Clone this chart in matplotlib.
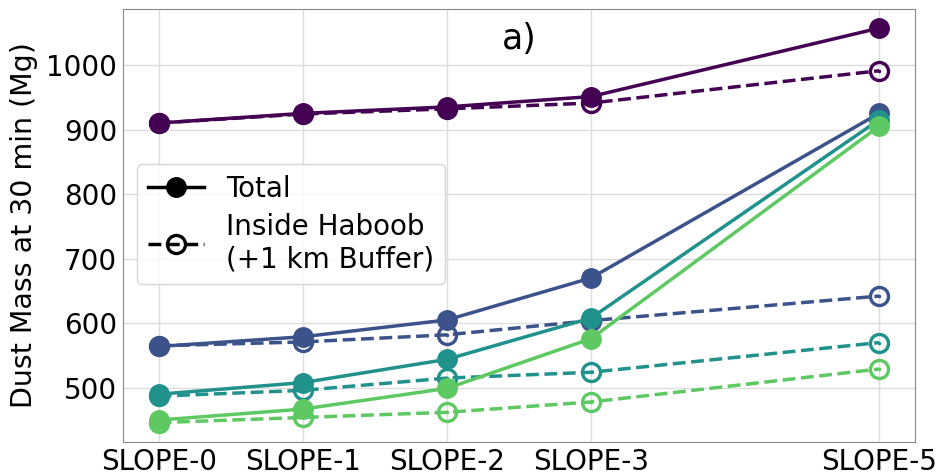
"""Dust mass at 30 min for the SLOPE experiments (panel a)."""

import matplotlib

matplotlib.use("Agg")
import matplotlib.pyplot as plt
from matplotlib.lines import Line2D
import numpy as np

# ---------------------------------------------------------------------------
# Data (Mg)
# ---------------------------------------------------------------------------
slope_pos = [0, 1, 2, 3, 5]
slope_labels = ["SLOPE-0", "SLOPE-1", "SLOPE-2", "SLOPE-3", "SLOPE-5"]

total_purple = [910, 925, 935, 951, 1057]
total_blue = [564, 579, 605, 670, 925]
total_teal = [490, 508, 544, 608, 915]
total_green = [450, 467, 499, 576, 905]

inside_purple = [910, 924, 932, 941, 991]
inside_blue = [565, 571, 582, 604, 642]
inside_teal = [487, 496, 515, 524, 570]
inside_green = [446, 454, 462, 478, 529]

totals = [total_purple, total_blue, total_teal, total_green]
insides = [inside_purple, inside_blue, inside_teal, inside_green]
colors = plt.cm.viridis(np.linspace(0, 0.75, 4))

# ---------------------------------------------------------------------------
# Plot
# ---------------------------------------------------------------------------
fig = plt.figure(figsize=(9.4, 4.74), dpi=100)
ax = fig.add_axes([0.1305, 0.0675, 0.843, 0.914])

for vals, c in zip(insides, colors):
    ax.plot(slope_pos, vals, ls="--", lw=2.5, color=c, marker="o", ms=13,
            mfc="none", mew=2.4, zorder=2)
    ax.plot(slope_pos, vals, ls="none", marker=".", ms=3, color=c, zorder=2)

for vals, c in zip(totals, colors):
    ax.plot(slope_pos, vals, ls="-", lw=2.5, color=c, marker="o", ms=14, zorder=3)

ax.set_xlim(-0.25, 5.25)
ax.set_ylim(416, 1087)
ax.set_xticks(slope_pos)
ax.set_xticklabels(slope_labels)
ax.set_yticks(range(500, 1001, 100))
ax.tick_params(labelsize=20, length=0, pad=4)
ax.set_ylabel("Dust Mass at 30 min (Mg)", fontsize=20.5, labelpad=6)
ax.grid(True, color="#dddddd", lw=1)
ax.set_axisbelow(True)
for sp in ax.spines.values():
    sp.set_color("#888888")

ax.text(0.5, 0.93, "a)", transform=ax.transAxes, ha="center", va="center",
        fontsize=25)

handles = [
    Line2D([], [], color="black", ls="-", lw=2.5, marker="o", ms=14),
    Line2D([], [], color="black", ls="--", lw=2.5, marker="o", ms=13,
           mfc="none", mew=2.4),
]
ax.legend(handles, ["Total", "Inside Haboob\n(+1 km Buffer)"], loc="upper left",
          bbox_to_anchor=(0.018, 0.642), borderaxespad=0, fontsize=20,
          handlelength=2.0, labelspacing=0.35, framealpha=0.8)

fig.savefig("out.png", dpi=100)
